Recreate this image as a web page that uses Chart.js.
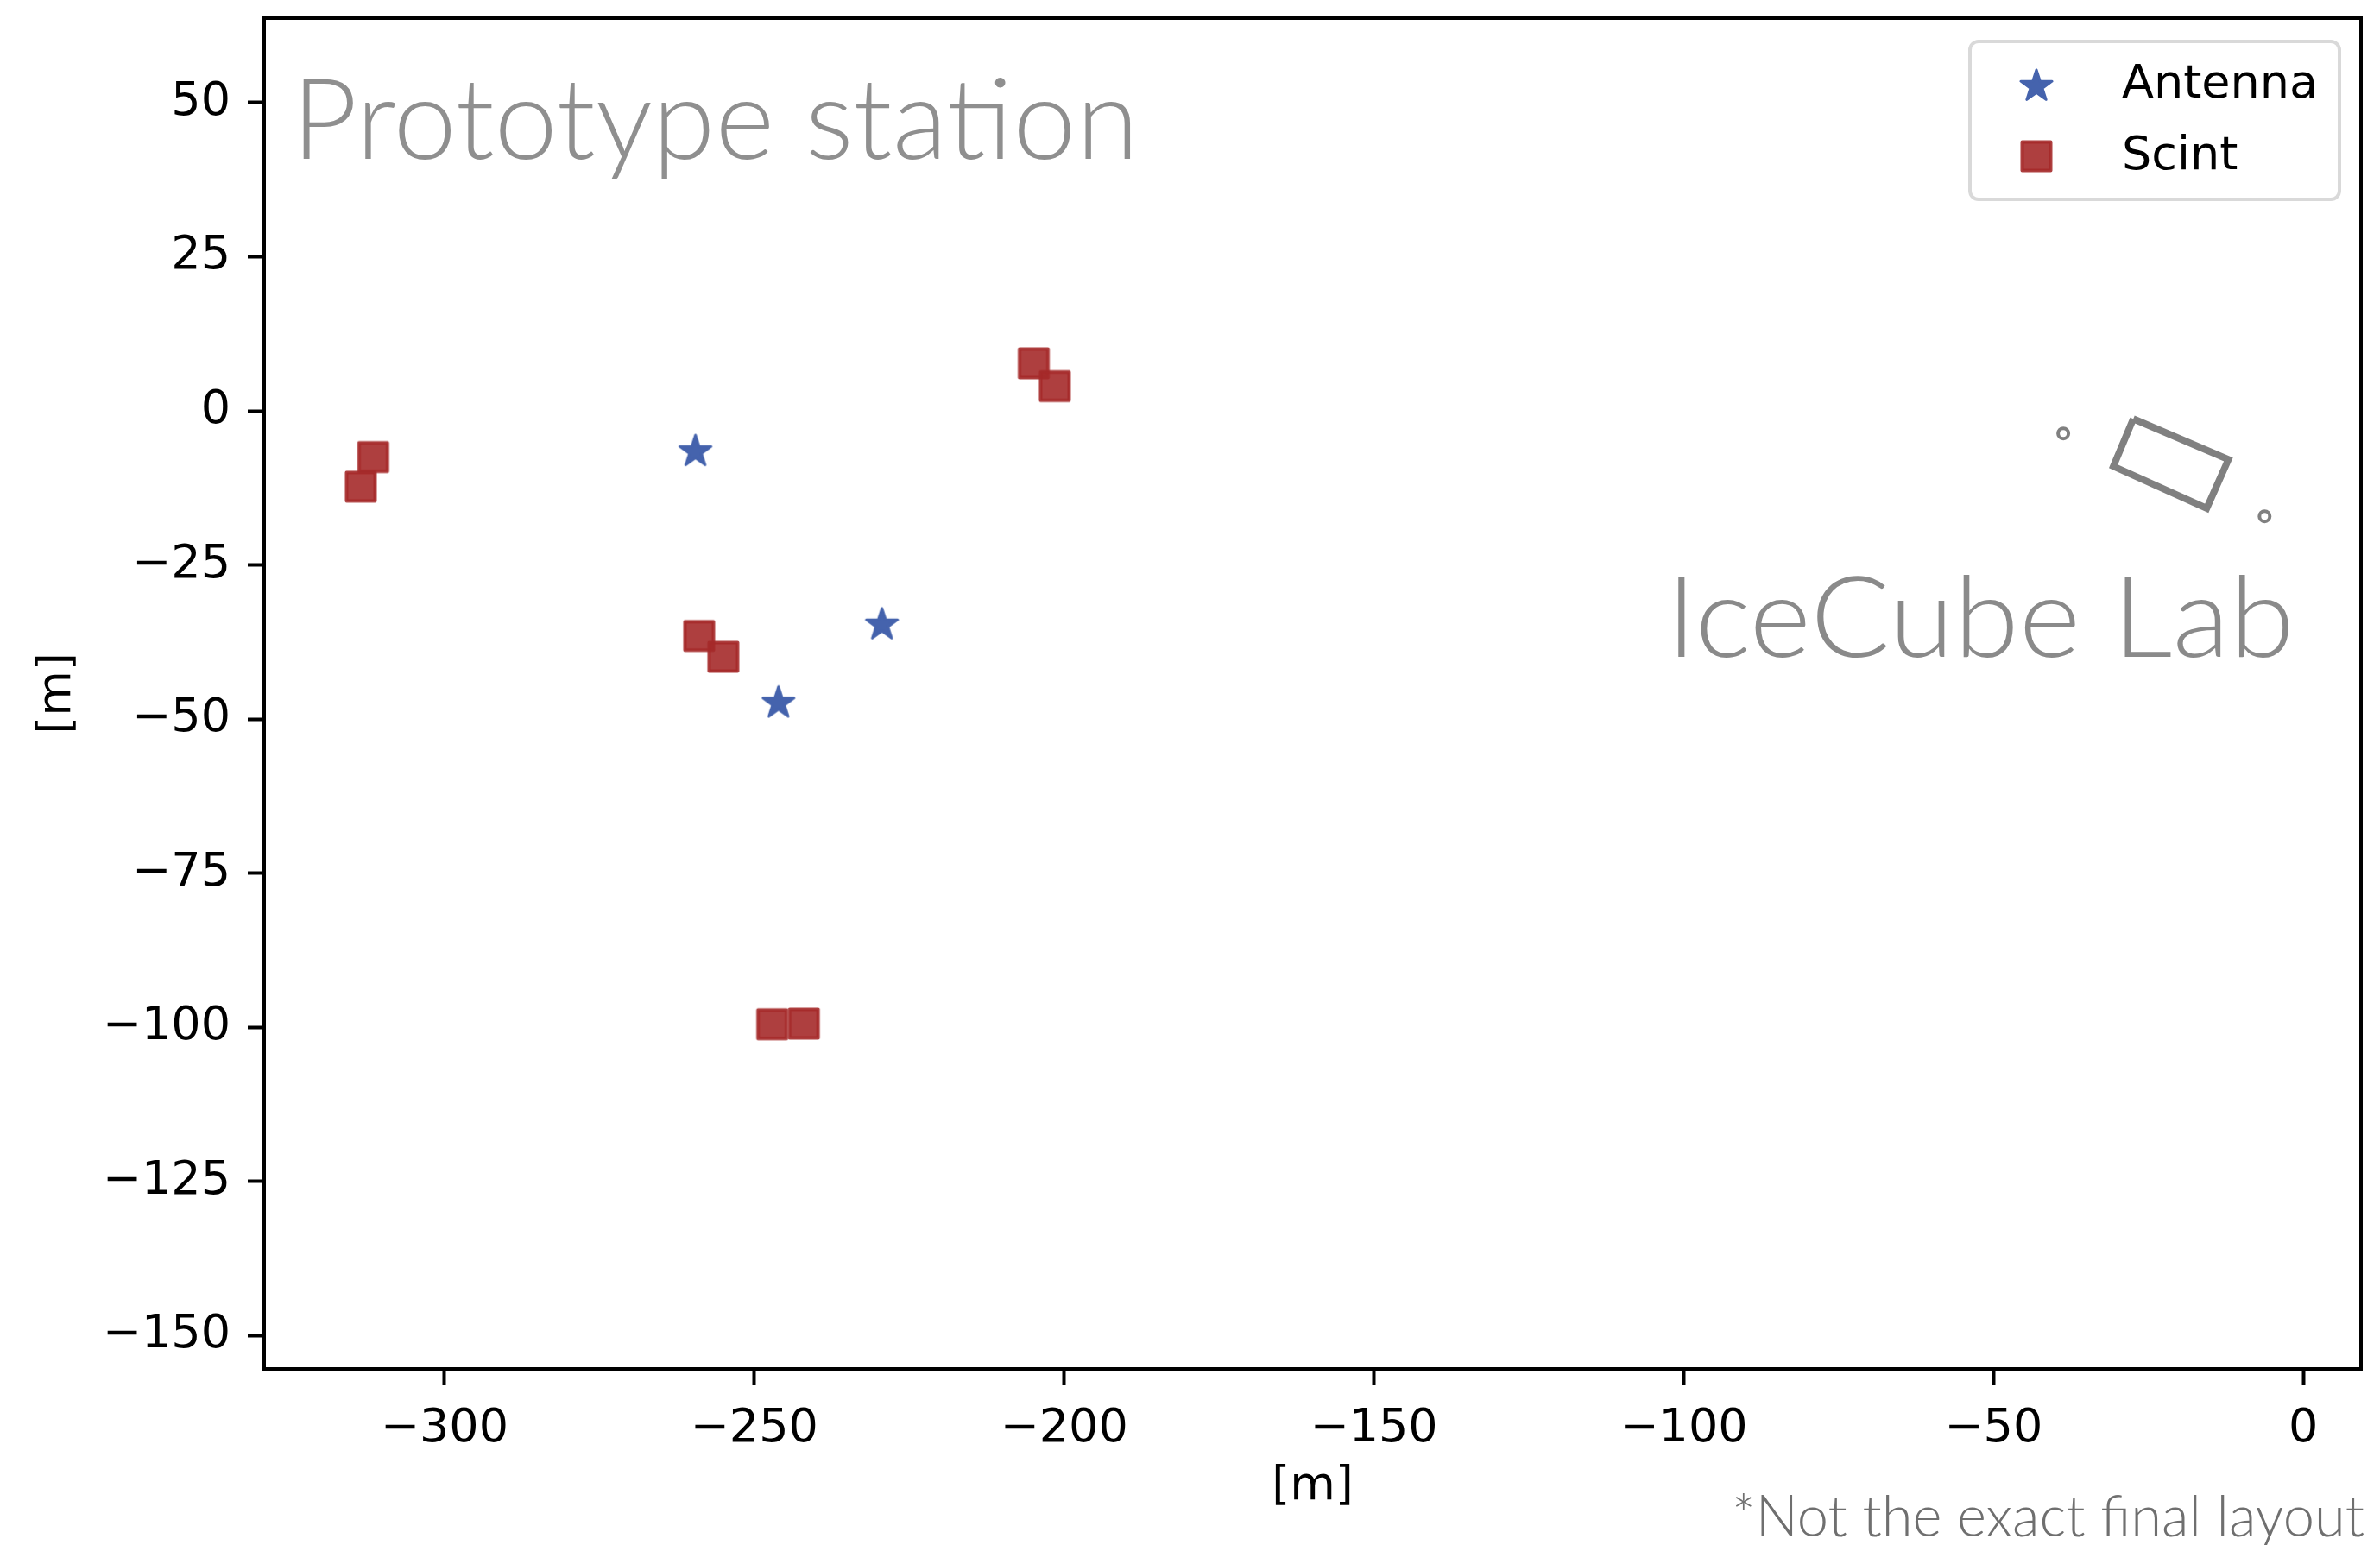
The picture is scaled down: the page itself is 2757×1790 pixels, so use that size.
<!DOCTYPE html>
<html>
<head>
<meta charset="utf-8">
<script src="https://cdn.jsdelivr.net/npm/chart.js@4.4.1/dist/chart.umd.min.js"></script>
<style>
  html, body { margin: 0; padding: 0; background: #fff; }
  canvas { display: block; }
</style>
</head>
<body>
<canvas id="layoutChart" width="2757" height="1790"></canvas>
<script>
// station positions [m]
const antennaX = [-259.5, -229.4, -246.1];
const antennaY = [-6.6, -34.7, -47.4];
const scintX = [-311.5, -313.5, -258.9, -255.0, -204.9, -201.5, -247.1, -242.0];
const scintY = [-7.5, -12.3, -36.5, -39.9, 7.7, 4.0, -99.5, -99.4];

// IceCube Lab outline + two poles
const labX = [-27.45, -12.1, -15.6, -30.66, -27.45];
const labY = [-1.3, -7.9, -15.8, -9.0, -1.3];
const poleX = [-38.75, -6.26];
const poleY = [-3.67, -17.1];

const xTicks = [-300, -250, -200, -150, -100, -50, 0];
const yTicks = [50, 25, 0, -25, -50, -75, -100, -125, -150];
const xRange = [-329.1, 9.3];
const yRange = [-155.4, 63.7];

const antennaColor = '#4563ad';
const scintColor = 'rgba(165, 42, 42, 0.9)';
const labColor = '#808080';

function toPoints(xs, ys) {
  return xs.map((x, i) => ({ x: x, y: ys[i] }));
}

function fmt(v) {
  return String(v).replace('-', '\u2212');
}

function makeStar(color) {
  const c = document.createElement('canvas');
  c.width = 50; c.height = 50;
  const g = c.getContext('2d');
  g.beginPath();
  for (let i = 0; i < 10; i++) {
    const r = i % 2 === 0 ? 19 : 19 * 0.382;
    const a = -Math.PI / 2 + i * Math.PI / 5;
    g.lineTo(25 + r * Math.cos(a), 25 + r * Math.sin(a));
  }
  g.closePath();
  g.fillStyle = color;
  g.fill();
  g.lineJoin = 'round';
  g.lineWidth = 3;
  g.strokeStyle = color;
  g.stroke();
  return c;
}

function makeSquare(color) {
  const c = document.createElement('canvas');
  c.width = 44; c.height = 44;
  const g = c.getContext('2d');
  g.fillStyle = color;
  g.fillRect(5.5, 5.5, 33, 33);
  g.lineJoin = 'round';
  g.lineWidth = 4;
  g.strokeStyle = color;
  g.strokeRect(5.5, 5.5, 33, 33);
  return c;
}

const starImg = makeStar(antennaColor);
const squareImg = makeSquare(scintColor);

// text squeezed/stretched to the width it has in the original
function fitText(ctx, text, x, y, width, font, color) {
  ctx.save();
  ctx.font = font;
  const w = ctx.measureText(text).width;
  ctx.translate(x, y);
  ctx.scale(width / w, 1);
  ctx.fillStyle = color;
  ctx.textAlign = 'left';
  ctx.textBaseline = 'alphabetic';
  ctx.fillText(text, 0, 0);
  ctx.restore();
}

function roundRect(ctx, x, y, w, h, r) {
  ctx.beginPath();
  ctx.moveTo(x + r, y);
  ctx.arcTo(x + w, y, x + w, y + h, r);
  ctx.arcTo(x + w, y + h, x, y + h, r);
  ctx.arcTo(x, y + h, x, y, r);
  ctx.arcTo(x, y, x + w, y, r);
  ctx.closePath();
}

const decorPlugin = {
  id: 'decor',
  afterDraw(chart) {
    const ctx = chart.ctx;
    const a = chart.chartArea;
    ctx.save();

    // full frame
    ctx.strokeStyle = '#000';
    ctx.lineWidth = 4;
    ctx.strokeRect(a.left, a.top, a.right - a.left, a.bottom - a.top);

    // big labels
    fitText(ctx, 'Prototype station', a.left + 32, a.top + 163, 981, '300 130px Lato', '#8f8f8f');
    fitText(ctx, 'IceCube Lab', a.left + 1624, a.top + 740, 728, '300 130px Lato', '#8a8a8a');
    fitText(ctx, '*Not the exact final layout', chart.width - 751, chart.height - 10, 733, '300 67px Lato', '#6f6f6f');

    // legend
    const lx = a.right - 453, ly = a.top + 27;
    roundRect(ctx, lx, ly, 428, 183, 10);
    ctx.fillStyle = 'rgba(255,255,255,0.8)';
    ctx.fill();
    ctx.lineWidth = 4;
    ctx.strokeStyle = '#d9d9d9';
    ctx.stroke();

    const items = [
      { text: 'Antenna', img: starImg, cy: a.top + 79, base: a.top + 92 },
      { text: 'Scint', img: squareImg, cy: a.top + 160, base: a.top + 175 }
    ];
    ctx.font = '54px "DejaVu Sans"';
    ctx.fillStyle = '#000';
    ctx.textAlign = 'left';
    ctx.textBaseline = 'alphabetic';
    items.forEach(it => {
      ctx.drawImage(it.img, a.right - 376 - it.img.width / 2, it.cy - it.img.height / 2);
      ctx.fillText(it.text, a.right - 277, it.base);
    });
    ctx.restore();
  }
};

const tickFont = { family: 'DejaVu Sans', size: 54 };

new Chart(document.getElementById('layoutChart').getContext('2d'), {
  type: 'scatter',
  data: {
    datasets: [
      {
        label: 'Antenna',
        data: toPoints(antennaX, antennaY),
        pointStyle: starImg,
        pointRadius: 20,
        pointHoverRadius: 20
      },
      {
        label: 'Scint',
        data: toPoints(scintX, scintY),
        pointStyle: squareImg,
        pointRadius: 20,
        pointHoverRadius: 20
      },
      {
        label: 'lab',
        data: toPoints(labX, labY),
        showLine: true,
        borderColor: labColor,
        borderWidth: 8,
        borderJoinStyle: 'miter',
        pointRadius: 0,
        fill: false,
        tension: 0
      },
      {
        label: 'poles',
        data: toPoints(poleX, poleY),
        pointStyle: 'circle',
        pointRadius: 6,
        pointBorderWidth: 4,
        pointBorderColor: labColor,
        pointBackgroundColor: 'rgba(0,0,0,0)'
      }
    ]
  },
  options: {
    responsive: false,
    animation: false,
    devicePixelRatio: 1,
    layout: { padding: { top: 18, right: 22, left: 0, bottom: 0 } },
    plugins: {
      legend: { display: false },
      tooltip: { enabled: false }
    },
    scales: {
      x: {
        type: 'linear',
        min: xRange[0],
        max: xRange[1],
        afterBuildTicks: s => { s.ticks = xTicks.map(v => ({ value: v })); },
        afterFit: s => { s.height = 204; s.paddingLeft = 0; s.paddingRight = 0; },
        grid: { drawOnChartArea: false, drawTicks: true, tickLength: 19, tickWidth: 4, tickColor: '#000' },
        border: { display: true, width: 4, color: '#000' },
        ticks: { font: tickFont, color: '#000', padding: 19, maxRotation: 0, callback: v => fmt(v) },
        title: { display: true, text: '[m]', font: tickFont, color: '#000', padding: { top: 0, bottom: 35 } }
      },
      y: {
        type: 'linear',
        min: yRange[0],
        max: yRange[1],
        afterBuildTicks: s => { s.ticks = yTicks.map(v => ({ value: v })); },
        afterFit: s => { s.width = 306; s.paddingTop = 0; s.paddingBottom = 0; },
        grid: { drawOnChartArea: false, drawTicks: true, tickLength: 19, tickWidth: 4, tickColor: '#000' },
        border: { display: true, width: 4, color: '#000' },
        ticks: { font: tickFont, color: '#000', padding: 20, callback: v => fmt(v) },
        title: { display: true, text: '[m]', font: tickFont, color: '#000', padding: { top: 35, bottom: 0 } }
      }
    }
  },
  plugins: [decorPlugin]
});
</script>
</body>
</html>
